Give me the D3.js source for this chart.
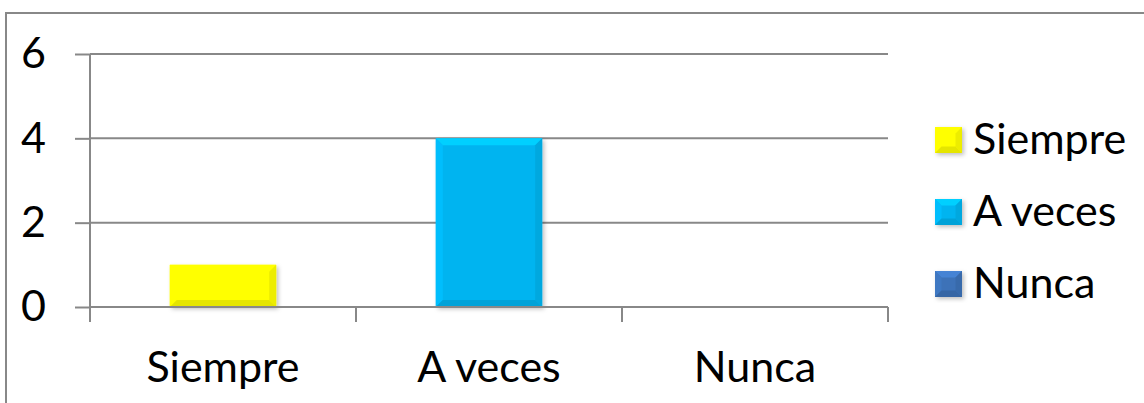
<!DOCTYPE html>
<html>
<head>
<meta charset="utf-8">
<script src="https://cdn.jsdelivr.net/npm/d3@7"></script>
<style>
  body { margin: 0; background: #fff; }
  svg { display: block; font-family: Lato, "Open Sans", sans-serif; }
</style>
</head>
<body>
<svg width="1144" height="403"></svg>
<script>
// data
const categories = ["Siempre", "A veces", "Nunca"];
const values = [1, 4, 0];
const colors = ["#FFFF00", "#00B4F0", "#3C72B8"];
const yTicks = [0, 2, 4, 6];

let svg = d3.select("svg");
const fontSize = 43;

// outer chart border (runs off the right and bottom)
svg.append("rect")
    .attr("x", 6).attr("y", 13)
    .attr("width", 1160).attr("height", 420)
    .attr("fill", "none").attr("stroke", "#888").attr("stroke-width", 2);

const plot = { left: 90, right: 888, top: 54, bottom: 307 };

let x = d3.scaleBand()
    .domain(categories)
    .range([plot.left, plot.right])
    .paddingInner(0.6).paddingOuter(0.3);

let xEdge = d3.scaleBand().domain(categories).range([plot.left, plot.right]);

let y = d3.scaleLinear().domain([0, 6]).range([plot.bottom, plot.top]);

// gridlines + y axis
let yAxis = svg.append("g")
    .attr("transform", "translate(" + plot.left + ",0)")
    .call(d3.axisLeft(y).tickValues(yTicks).tickFormat(d3.format("d")).tickSize(15).tickPadding(29));
yAxis.select(".domain").attr("stroke", "#888").attr("stroke-width", 2)
    .attr("d", "M0," + plot.top + "V" + plot.bottom);
yAxis.selectAll(".tick line").attr("stroke", "#888").attr("stroke-width", 2);
yAxis.selectAll(".tick text").attr("font-size", fontSize).attr("fill", "#000")
    .attr("font-family", "Lato, sans-serif");

svg.append("g").selectAll("line")
    .data(yTicks.filter(d => d > 0))
    .enter().append("line")
    .attr("x1", plot.left).attr("x2", plot.right)
    .attr("y1", d => y(d)).attr("y2", d => y(d))
    .attr("stroke", "#888").attr("stroke-width", 2);

// bars with a bevel look
let defs = svg.append("defs");
let blur = defs.append("filter").attr("id", "shadow")
    .attr("x", "-10%").attr("y", "-10%").attr("width", "130%").attr("height", "130%");
blur.append("feDropShadow").attr("dx", 2).attr("dy", 2).attr("stdDeviation", 2)
    .attr("flood-color", "#000").attr("flood-opacity", 0.25);

function drawBevel(g, x0, y0, w, h, color) {
    const b = Math.min(7, w / 4, h / 4);
    const c = d3.color(color);
    g.append("rect").attr("x", x0).attr("y", y0).attr("width", w).attr("height", h)
        .attr("fill", color).attr("filter", "url(#shadow)");
    if (h <= 0) return;
    const pts = (a) => a.map(p => p.join(",")).join(" ");
    // top
    g.append("polygon").attr("fill", c.brighter(0.4))
        .attr("points", pts([[x0, y0], [x0 + w, y0], [x0 + w - b, y0 + b], [x0 + b, y0 + b]]));
    // left
    g.append("polygon").attr("fill", c.brighter(0.15))
        .attr("points", pts([[x0, y0], [x0 + b, y0 + b], [x0 + b, y0 + h - b], [x0, y0 + h]]));
    // right
    g.append("polygon").attr("fill", c.darker(0.2))
        .attr("points", pts([[x0 + w, y0], [x0 + w, y0 + h], [x0 + w - b, y0 + h - b], [x0 + w - b, y0 + b]]));
    // bottom
    g.append("polygon").attr("fill", c.darker(0.3))
        .attr("points", pts([[x0, y0 + h], [x0 + b, y0 + h - b], [x0 + w - b, y0 + h - b], [x0 + w, y0 + h]]));
}

let bars = svg.append("g");
categories.forEach(function (cat, i) {
    if (values[i] <= 0) return;
    let g = bars.append("g");
    drawBevel(g, x(cat), y(values[i]), x.bandwidth(), y(0) - y(values[i]), colors[i]);
});

// x axis
let xAxis = svg.append("g")
    .attr("transform", "translate(0," + plot.bottom + ")");
xAxis.append("line").attr("x1", plot.left).attr("x2", plot.right)
    .attr("stroke", "#888").attr("stroke-width", 2);
let edges = categories.map(c => xEdge(c)).concat([plot.right]);
xAxis.selectAll(".xt").data(edges).enter().append("line")
    .attr("x1", d => d).attr("x2", d => d).attr("y1", 0).attr("y2", 15)
    .attr("stroke", "#888").attr("stroke-width", 2);
xAxis.selectAll("text").data(categories).enter().append("text")
    .attr("x", d => xEdge(d) + xEdge.bandwidth() / 2)
    .attr("y", 75)
    .attr("text-anchor", "middle")
    .attr("font-size", fontSize)
    .text(d => d);

// legend
let legend = svg.append("g").attr("transform", "translate(935,0)");
let ly = d3.scalePoint().domain(categories).range([140, 284]);
categories.forEach(function (cat, i) {
    let g = legend.append("g");
    drawBevel(g, 0, ly(cat) - 13, 27, 26, colors[i]);
    g.append("text").attr("x", 38).attr("y", ly(cat) + 14)
        .attr("font-size", fontSize).text(cat);
});
</script>
</body>
</html>
